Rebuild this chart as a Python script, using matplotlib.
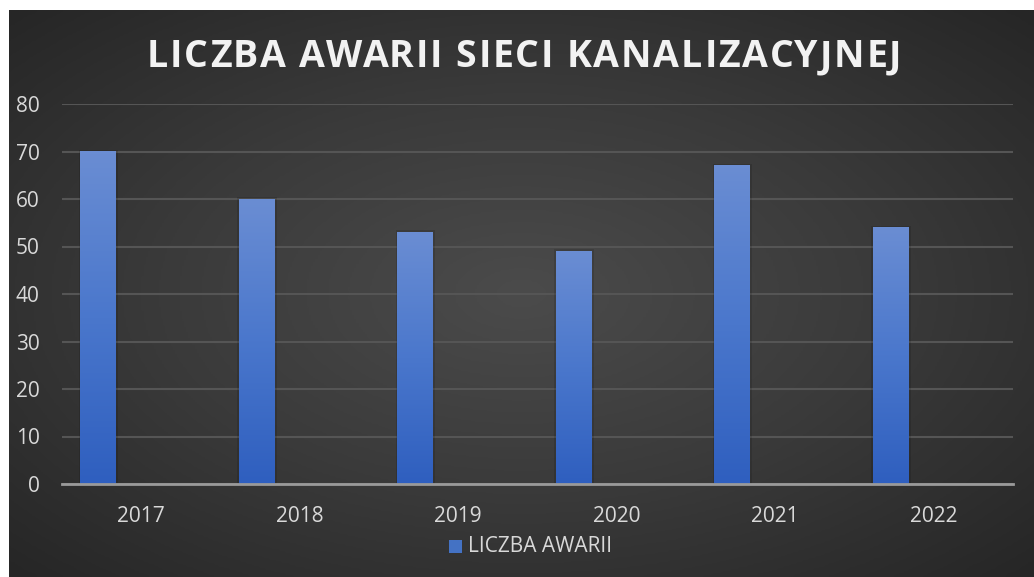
import numpy as np
import matplotlib.pyplot as plt
from matplotlib.colors import LinearSegmentedColormap
from matplotlib.patches import Rectangle

years = ['2017', '2018', '2019', '2020', '2021', '2022']
awarie = [70, 60, 53, 49, 67, 54]
title = 'LICZBA AWARII SIECI KANALIZACYJNEJ'
series_name = 'LICZBA AWARII'

plt.rcParams['font.family'] = ['Open Sans', 'DejaVu Sans']

fig = plt.figure(figsize=(10.34, 5.77), dpi=100, facecolor='white')

# dark radial background panel
bg = fig.add_axes([9 / 1034, 0, 1 - 9 / 1034, 1 - 10 / 577])
bg.set_axis_off()
yy, xx = np.mgrid[-1:1:300j, -1:1:500j]
r = np.sqrt(xx ** 2 + yy ** 2) / np.sqrt(2)
bgmap = LinearSegmentedColormap.from_list('bg', ['#4b4b4b', '#3a3a3a', '#262626'])
bg.imshow(r, cmap=bgmap, aspect='auto', extent=(0, 1, 0, 1), interpolation='bilinear')
bg.set_xlim(0, 1)
bg.set_ylim(0, 1)

ax = fig.add_axes([62 / 1034, 1 - 484 / 577, (1013 - 62) / 1034, (484 - 104) / 577])
ax.patch.set_alpha(0)

barmap = LinearSegmentedColormap.from_list('bar', ['#2f5fbf', '#4a77cc', '#6a8dd3'])
grad = np.linspace(0, 1, 100).reshape(-1, 1)
offset = -0.27
width = 0.227
for i, v in enumerate(awarie):
    x0 = i + offset - width / 2
    # soft shadow
    ax.add_patch(Rectangle((x0 - 0.01, 0), width + 0.02, v + 0.4, color='black', alpha=0.12, lw=0, zorder=2))
    ax.imshow(grad, cmap=barmap, origin='lower', aspect='auto',
              extent=(x0, x0 + width, 0, v), zorder=3, interpolation='bilinear')
ax.set_xlim(-0.5, len(years) - 0.5)
ax.set_ylim(0, 80)

ax.set_yticks(range(0, 81, 10))
ax.grid(axis='y', color='#555555', lw=1.5, zorder=1)
ax.set_axisbelow(True)
for s in ['top', 'right', 'left']:
    ax.spines[s].set_visible(False)
ax.spines['bottom'].set_color('#9a9a9a')
ax.spines['bottom'].set_linewidth(2)
ax.spines['bottom'].set_zorder(4)
ax.set_xticks(range(len(years)))
ax.set_xticklabels(years)
ax.tick_params(axis='both', length=0, colors='#d9d9d9', labelsize=15)
ax.tick_params(axis='x', pad=16)
ax.tick_params(axis='y', pad=16)

# title with letter spacing, char by char
renderer = fig.canvas.get_renderer()
tsize = 27
spacing = 1.8  # px between letters
widths = []
for k in range(len(title) + 1):
    t = fig.text(0, 0, title[:k] + '|', fontsize=tsize, fontweight='bold')
    widths.append(t.get_window_extent(renderer).width)
    t.remove()
bar_w = widths[0]
prefix = [w - bar_w for w in widths]
total = prefix[-1] + spacing * (len(title) - 1)
start = 0.508 * 1034 - total / 2
for k, ch in enumerate(title):
    xpx = start + prefix[k] + spacing * k
    fig.text(xpx / 1034, 1 - 57 / 577, ch, ha='left', va='center', color='#f2f2f2',
             fontsize=tsize, fontweight='bold')

# legend
lx, ly = 449 / 1034, 1 - 553 / 577
fig.patches.append(Rectangle((lx, ly), 13 / 1034, 13 / 577, transform=fig.transFigure,
                             facecolor='#4472c4', edgecolor='none', figure=fig))
fig.text(468 / 1034, 1 - 547 / 577, series_name, ha='left', va='center', color='#d9d9d9', fontsize=15)

fig.savefig('out.png', dpi=100, facecolor='white')
